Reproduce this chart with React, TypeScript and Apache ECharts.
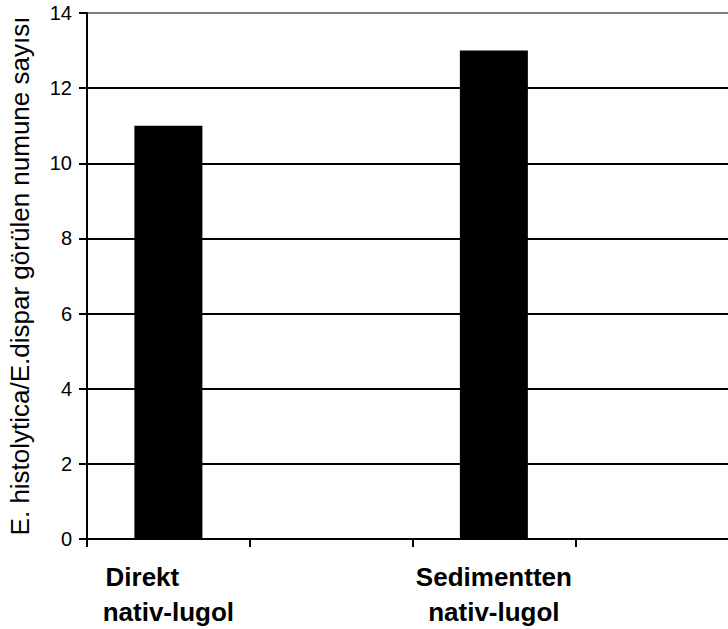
import React, { useEffect, useRef } from "react";
import * as echarts from "echarts";

const categories = ["Direkt\nnativ-lugol", "", "Sedimentten\nnativ-lugol", ""];
const values: (number | string)[] = [11, "-", 13, "-"];
const yTicks = [0, 2, 4, 6, 8, 10, 12, 14];
const yTitle = "E. histolytica/E.dispar görülen numune sayısı";

export default function App() {
  const ref = useRef<HTMLDivElement>(null);
  useEffect(() => {
    if (!ref.current) return;
    const chart = echarts.init(ref.current, null, { renderer: "svg" });
    const font = "'Liberation Sans', Arial, sans-serif";
    chart.setOption({
      animation: false,
      backgroundColor: "#ffffff",
      textStyle: { fontFamily: font },
      grid: { left: 87, top: 13, bottom: 90, right: 0, containLabel: false, outerBoundsMode: "none" },
      xAxis: {
        type: "category",
        data: categories,
        boundaryGap: true,
        axisLine: { lineStyle: { color: "#000", width: 2 } },
        axisTick: { show: true, length: 8, alignWithLabel: false, lineStyle: { color: "#000", width: 2 } },
        axisLabel: {
          interval: 0,
          margin: 20,
          color: "#000",
          fontFamily: font,
          formatter: (v: string, i: number) => {
            if (!v) return "";
            const parts = v.split("\n");
            const first = i === 0 ? "a" : "b";
            return `{${first}|${parts[0]}}\n{b|${parts[1]}}`;
          },
          rich: {
            a: { fontSize: 26, fontWeight: "bold", lineHeight: 35, color: "#000", fontFamily: font, padding: [0, 52, 0, 0] },
            b: { fontSize: 26, fontWeight: "bold", lineHeight: 35, color: "#000", fontFamily: font },
          },
        },
        splitLine: { show: false },
      },
      yAxis: {
        type: "value",
        min: 0,
        max: 14,
        interval: 2,
        name: yTitle,
        nameLocation: "middle",
        nameRotate: 90,
        nameGap: 54,
        nameTextStyle: { fontSize: 26, color: "#000", fontFamily: font },
        axisLine: { show: true, lineStyle: { color: "#000", width: 2 } },
        axisTick: { show: true, length: 8, lineStyle: { color: "#000", width: 2 } },
        axisLabel: {
          margin: 15,
          fontSize: 20,
          color: "#000",
          fontFamily: font,
          formatter: (v: number) => (yTicks.includes(v) ? String(v) : ""),
        },
        splitLine: {
          show: true,
          lineStyle: {
            width: 2,
            color: ["#000", "#000", "#000", "#000", "#000", "#000", "#000", "#808080"],
          },
        },
      },
      series: [
        {
          type: "bar",
          data: values,
          barWidth: 68,
          itemStyle: { color: "#000" },
        },
      ],
    });
    return () => chart.dispose();
  }, []);
  return (
    <div
      style={{ position: "fixed", left: 0, top: 0, width: 728, height: 629, overflow: "hidden", background: "#fff" }}
    >
      <div ref={ref} style={{ width: 738, height: 629 }} />
    </div>
  );
}
